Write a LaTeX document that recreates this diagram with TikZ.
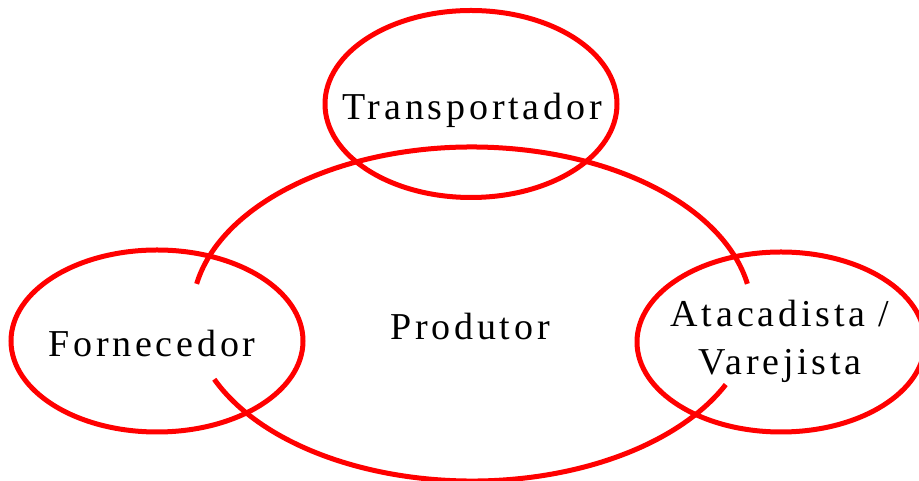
\documentclass[tikz,border=0pt]{standalone}
\usepackage{fontspec}
\setmainfont{Liberation Serif}
\usetikzlibrary{shapes.geometric}
\tikzset{
  ring/.style={draw=red, line width=5pt, ellipse, inner sep=0pt},
  arcline/.style={draw=red, line width=5pt},
  lbl/.style={font=\fontsize{38}{46}\selectfont\addfontfeature{LetterSpace=10}, text=black, anchor=base, inner sep=0pt}
}
\begin{document}
\begin{tikzpicture}[x=1pt,y=1pt]
\useasboundingbox (0,0) rectangle (919,481);
% central (Produtor) ellipse, drawn as two arcs
\coordinate (prodc) at (472,167);
\draw[arcline] (prodc) ++(169.6:280pt and 167pt) arc[start angle=169.6, end angle=10.4, x radius=280pt, y radius=167pt];
\draw[arcline] (prodc) ++(203:280pt and 167pt) arc[start angle=203, end angle=335, x radius=280pt, y radius=167pt];
% outer ellipses
\node[ring, minimum width=292pt, minimum height=187pt] (transp) at (471,377) {};
\node[ring, minimum width=292pt, minimum height=182pt] (forn) at (157,140) {};
\node[ring, minimum width=288pt, minimum height=180pt] (atac) at (781,139) {};
% labels
\node[lbl] (ttransp) at (472,361) {Transportador};
\node[lbl] (tforn) at (152,124) {Fornecedor};
\node[lbl] (tprod) at (470,141) {Produtor};
\node[lbl] (tatac) at (780,154) {Atacadista /};
\node[lbl] (tvar) at (780,106) {Varejista};
\end{tikzpicture}
\end{document}
